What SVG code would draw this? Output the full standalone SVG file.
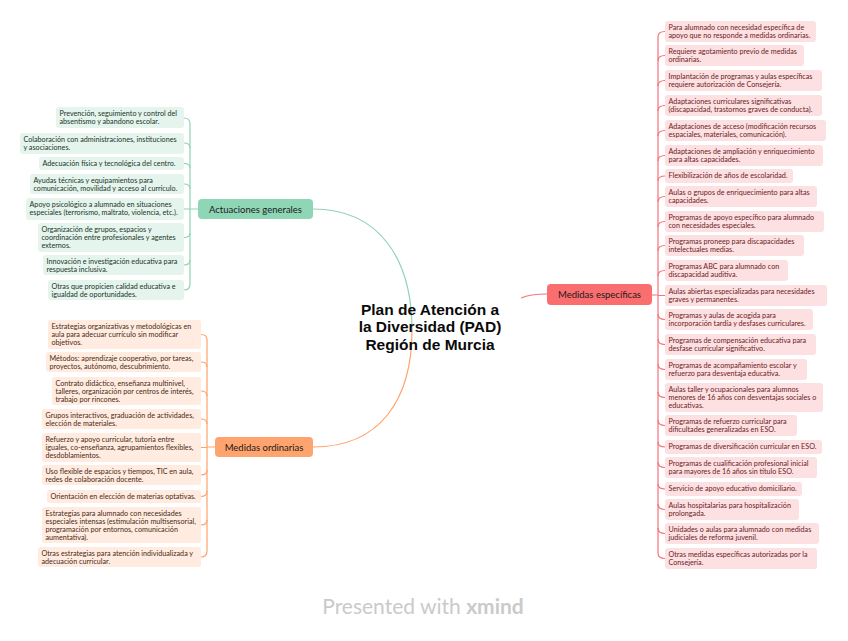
<svg xmlns="http://www.w3.org/2000/svg" width="848" height="641" viewBox="0 0 848 641">
<style>
text{font-family:Lato,"Liberation Sans",sans-serif;}
.t{font-size:7.2px;}
.g rect{fill:#E5F4EC;}
.o rect{fill:#FFEBDF;}
.r rect{fill:#FDE0E1;}
.g text{fill:#21352B;}
.o text{fill:#4A2A16;}
.r text{fill:#6A1C26;}
.main{font-size:9.5px;fill:#1A1A1A;text-anchor:middle;}
.title{font-family:"Liberation Sans",Arial,sans-serif;font-size:15.5px;font-weight:700;fill:#0A0A0A;text-anchor:middle;}
.cg{fill:none;stroke:#8FD3B4;stroke-width:1.2;}
.co{fill:none;stroke:#FFA26C;stroke-width:1.2;}
.cr{fill:none;stroke:#F7727A;stroke-width:1.2;}
</style>
<rect width="848" height="641" fill="#FFFFFF"/>
<g id="connectors">
<path class="cg" d="M313,209 C380,209 412,260 412,330"/>
<path class="co" d="M313,447 C380,447 412,400 412,330"/>
<path class="cr" d="M521,298 Q530,294 547,294"/>
<path class="cg" d="M184,118 Q190,118 190,124 L190,284 Q190,290 184,290 M190,209 L198,209"/>
<path class="cg" d="M184,143 Q190,143 190,148 M184,163.5 Q190,163.5 190,168 M184,184 Q190,184 190,189 M184,209 L190,209 M184,237.5 Q190,237.5 190,233 M184,265 Q190,265 190,260"/>
<path class="co" d="M201,334.5 Q207,334.5 207,340 L207,551 Q207,557 201,557 M207,447 L215,447"/>
<path class="co" d="M201,362 Q207,362 207,367 M201,391 Q207,391 207,396 M201,419 Q207,419 207,424 M201,447.5 L207,447.5 M201,475 Q207,475 207,470 M201,496.5 Q207,496.5 207,491 M201,525 Q207,525 207,520"/>
<path class="cr" d="M665,31.5 Q658,31.5 658,37 L658,553 Q658,558.5 665,558.5 M652,295 L658,295"/>
<path class="cr" d="M665,55.5 Q658,55.5 658,61 M665,80.5 Q658,80.5 658,86 M665,105.5 Q658,105.5 658,111 M665,130.5 Q658,130.5 658,136 M665,155.5 Q658,155.5 658,161 M665,176 Q658,176 658,181 M665,196.5 Q658,196.5 658,202 M665,221.5 Q658,221.5 658,227 M665,245.5 Q658,245.5 658,251 M665,270.5 Q658,270.5 658,276 M665,295.5 L658,295.5 M665,319.5 Q658,319.5 658,314 M665,344.5 Q658,344.5 658,339 M665,369.5 Q658,369.5 658,364 M665,397.5 Q658,397.5 658,392 M665,425.5 Q658,425.5 658,420 M665,447 Q658,447 658,442 M665,467.5 Q658,467.5 658,462 M665,489 Q658,489 658,484 M665,509.5 Q658,509.5 658,504 M665,533.5 Q658,533.5 658,528"/>
</g>
<g id="central">
<text class="title" x="430" y="314.5">Plan de Atención a<tspan x="430" dy="17.9">la Diversidad (PAD)</tspan><tspan x="430" dy="17.9">Región de Murcia</tspan></text>
</g>
<g id="actuaciones-generales"><rect x="198" y="199" width="115" height="20" rx="4" fill="#8FD6B7"/><text class="main" x="255.5" y="212.5">Actuaciones generales</text></g>
<g id="medidas-ordinarias"><rect x="215" y="437" width="98" height="20" rx="4" fill="#FFA46E"/><text class="main" x="264" y="450.5">Medidas ordinarias</text></g>
<g id="medidas-especificas"><rect x="547" y="284" width="105" height="21" rx="4" fill="#FB6E6F"/><text class="main" x="599.5" y="298">Medidas específicas</text></g>

<g id="g1" class="g t"><rect x="56" y="107" width="128" height="21" rx="3"/><text x="59.5" y="116">Prevención, seguimiento y control del</text><text x="59.5" y="124">absentismo y abandono escolar.</text></g>
<g id="g2" class="g t"><rect x="20" y="133" width="164" height="21" rx="3"/><text x="23.5" y="142">Colaboración con administraciones, instituciones</text><text x="23.5" y="150">y asociaciones.</text></g>
<g id="g3" class="g t"><rect x="39" y="157" width="145" height="13" rx="3"/><text x="42.5" y="165.5">Adecuación física y tecnológica del centro.</text></g>
<g id="g4" class="g t"><rect x="30" y="174" width="154" height="20" rx="3"/><text x="33.5" y="182.5">Ayudas técnicas y equipamientos para</text><text x="33.5" y="190.5">comunicación, movilidad y acceso al currículo.</text></g>
<g id="g5" class="g t"><rect x="26" y="198" width="158" height="22" rx="3"/><text x="29.5" y="207">Apoyo psicológico a alumnado en situaciones</text><text x="29.5" y="215">especiales (terrorismo, maltrato, violencia, etc.).</text></g>
<g id="g6" class="g t"><rect x="38" y="223" width="146" height="29" rx="3"/><text x="41.5" y="232">Organización de grupos, espacios y</text><text x="41.5" y="240">coordinación entre profesionales y agentes</text><text x="41.5" y="248">externos.</text></g>
<g id="g7" class="g t"><rect x="43" y="255" width="141" height="20" rx="3"/><text x="46.5" y="263.5">Innovación e investigación educativa para</text><text x="46.5" y="271.5">respuesta inclusiva.</text></g>
<g id="g8" class="g t"><rect x="48" y="280" width="136" height="20" rx="3"/><text x="51.5" y="288.5">Otras que propicien calidad educativa e</text><text x="51.5" y="296.5">igualdad de oportunidades.</text></g>

<g id="o1" class="o t"><rect x="48" y="320" width="153" height="29" rx="3"/><text x="51.5" y="329">Estrategias organizativas y metodológicas en</text><text x="51.5" y="337">aula para adecuar currículo sin modificar</text><text x="51.5" y="345">objetivos.</text></g>
<g id="o2" class="o t"><rect x="46" y="352" width="155" height="20" rx="3"/><text x="49.5" y="360.5">Métodos: aprendizaje cooperativo, por tareas,</text><text x="49.5" y="368.5">proyectos, autónomo, descubrimiento.</text></g>
<g id="o3" class="o t"><rect x="52" y="377" width="149" height="28" rx="3"/><text x="55.5" y="385.5">Contrato didáctico, enseñanza multinivel,</text><text x="55.5" y="393.5">talleres, organización por centros de interés,</text><text x="55.5" y="401.5">trabajo por rincones.</text></g>
<g id="o4" class="o t"><rect x="42" y="409" width="159" height="20" rx="3"/><text x="45.5" y="417.5">Grupos interactivos, graduación de actividades,</text><text x="45.5" y="425.5">elección de materiales.</text></g>
<g id="o5" class="o t"><rect x="42" y="433" width="159" height="29" rx="3"/><text x="45.5" y="442">Refuerzo y apoyo curricular, tutoría entre</text><text x="45.5" y="450">iguales, co-enseñanza, agrupamientos flexibles,</text><text x="45.5" y="458">desdoblamientos.</text></g>
<g id="o6" class="o t"><rect x="42" y="465" width="159" height="20" rx="3"/><text x="45.5" y="473.5">Uso flexible de espacios y tiempos, TIC en aula,</text><text x="45.5" y="481.5">redes de colaboración docente.</text></g>
<g id="o7" class="o t"><rect x="47" y="490" width="154" height="13" rx="3"/><text x="50.5" y="498.5">Orientación en elección de materias optativas.</text></g>
<g id="o8" class="o t"><rect x="42" y="507" width="159" height="36" rx="3"/><text x="45.5" y="516">Estrategias para alumnado con necesidades</text><text x="45.5" y="524">especiales intensas (estimulación multisensorial,</text><text x="45.5" y="532">programación por entornos, comunicación</text><text x="45.5" y="540">aumentativa).</text></g>
<g id="o9" class="o t"><rect x="38" y="547" width="163" height="20" rx="3"/><text x="41.5" y="555.5">Otras estrategias para atención individualizada y</text><text x="41.5" y="563.5">adecuación curricular.</text></g>

<g id="r1" class="r t"><rect x="665" y="21" width="151" height="21" rx="3"/><text x="668.5" y="30">Para alumnado con necesidad específica de</text><text x="668.5" y="38">apoyo que no responde a medidas ordinarias.</text></g>
<g id="r2" class="r t"><rect x="665" y="45" width="139" height="21" rx="3"/><text x="668.5" y="54">Requiere agotamiento previo de medidas</text><text x="668.5" y="62">ordinarias.</text></g>
<g id="r3" class="r t"><rect x="665" y="70" width="157" height="21" rx="3"/><text x="668.5" y="79">Implantación de programas y aulas específicas</text><text x="668.5" y="87">requiere autorización de Consejería.</text></g>
<g id="r4" class="r t"><rect x="665" y="95" width="157" height="21" rx="3"/><text x="668.5" y="104">Adaptaciones curriculares significativas</text><text x="668.5" y="112">(discapacidad, trastornos graves de conducta).</text></g>
<g id="r5" class="r t"><rect x="665" y="120" width="161" height="21" rx="3"/><text x="668.5" y="129">Adaptaciones de acceso (modificación recursos</text><text x="668.5" y="137">espaciales, materiales, comunicación).</text></g>
<g id="r6" class="r t"><rect x="665" y="145" width="158" height="21" rx="3"/><text x="668.5" y="154">Adaptaciones de ampliación y enriquecimiento</text><text x="668.5" y="162">para altas capacidades.</text></g>
<g id="r7" class="r t"><rect x="665" y="169" width="128" height="14" rx="3"/><text x="668.5" y="178">Flexibilización de años de escolaridad.</text></g>
<g id="r8" class="r t"><rect x="665" y="186" width="152" height="21" rx="3"/><text x="668.5" y="195">Aulas o grupos de enriquecimiento para altas</text><text x="668.5" y="203">capacidades.</text></g>
<g id="r9" class="r t"><rect x="665" y="211" width="159" height="21" rx="3"/><text x="668.5" y="220">Programas de apoyo específico para alumnado</text><text x="668.5" y="228">con necesidades especiales.</text></g>
<g id="r10" class="r t"><rect x="665" y="235" width="139" height="21" rx="3"/><text x="668.5" y="244">Programas proneep para discapacidades</text><text x="668.5" y="252">intelectuales medias.</text></g>
<g id="r11" class="r t"><rect x="665" y="260" width="123" height="21" rx="3"/><text x="668.5" y="269">Programas ABC para alumnado con</text><text x="668.5" y="277">discapacidad auditiva.</text></g>
<g id="r12" class="r t"><rect x="665" y="285" width="162" height="21" rx="3"/><text x="668.5" y="294">Aulas abiertas especializadas para necesidades</text><text x="668.5" y="302">graves y permanentes.</text></g>
<g id="r13" class="r t"><rect x="665" y="309" width="148" height="21" rx="3"/><text x="668.5" y="318">Programas y aulas de acogida para</text><text x="668.5" y="326">incorporación tardía y desfases curriculares.</text></g>
<g id="r14" class="r t"><rect x="665" y="334" width="151" height="21" rx="3"/><text x="668.5" y="343">Programas de compensación educativa para</text><text x="668.5" y="351">desfase curricular significativo.</text></g>
<g id="r15" class="r t"><rect x="665" y="359" width="142" height="21" rx="3"/><text x="668.5" y="368">Programas de acompañamiento escolar y</text><text x="668.5" y="376">refuerzo para desventaja educativa.</text></g>
<g id="r16" class="r t"><rect x="665" y="383" width="158" height="29" rx="3"/><text x="668.5" y="392">Aulas taller y ocupacionales para alumnos</text><text x="668.5" y="400">menores de 16 años con desventajas sociales o</text><text x="668.5" y="408">educativas.</text></g>
<g id="r17" class="r t"><rect x="665" y="415" width="132" height="21" rx="3"/><text x="668.5" y="424">Programas de refuerzo curricular para</text><text x="668.5" y="432">dificultades generalizadas en ESO.</text></g>
<g id="r18" class="r t"><rect x="665" y="440" width="157" height="14" rx="3"/><text x="668.5" y="449">Programas de diversificación curricular en ESO.</text></g>
<g id="r19" class="r t"><rect x="665" y="457" width="152" height="21" rx="3"/><text x="668.5" y="466">Programas de cualificación profesional inicial</text><text x="668.5" y="474">para mayores de 16 años sin título ESO.</text></g>
<g id="r20" class="r t"><rect x="665" y="482" width="137" height="14" rx="3"/><text x="668.5" y="491">Servicio de apoyo educativo domiciliario.</text></g>
<g id="r21" class="r t"><rect x="665" y="499" width="134" height="21" rx="3"/><text x="668.5" y="508">Aulas hospitalarias para hospitalización</text><text x="668.5" y="516">prolongada.</text></g>
<g id="r22" class="r t"><rect x="665" y="523" width="154" height="21" rx="3"/><text x="668.5" y="532">Unidades o aulas para alumnado con medidas</text><text x="668.5" y="540">judiciales de reforma juvenil.</text></g>
<g id="r23" class="r t"><rect x="665" y="548" width="152" height="21" rx="3"/><text x="668.5" y="557">Otras medidas específicas autorizadas por la</text><text x="668.5" y="565">Consejería.</text></g>

<g id="footer"><text x="423" y="614" font-size="21" fill="#CACACA" text-anchor="middle">Presented with <tspan font-weight="700">xmind</tspan></text></g>
</svg>
